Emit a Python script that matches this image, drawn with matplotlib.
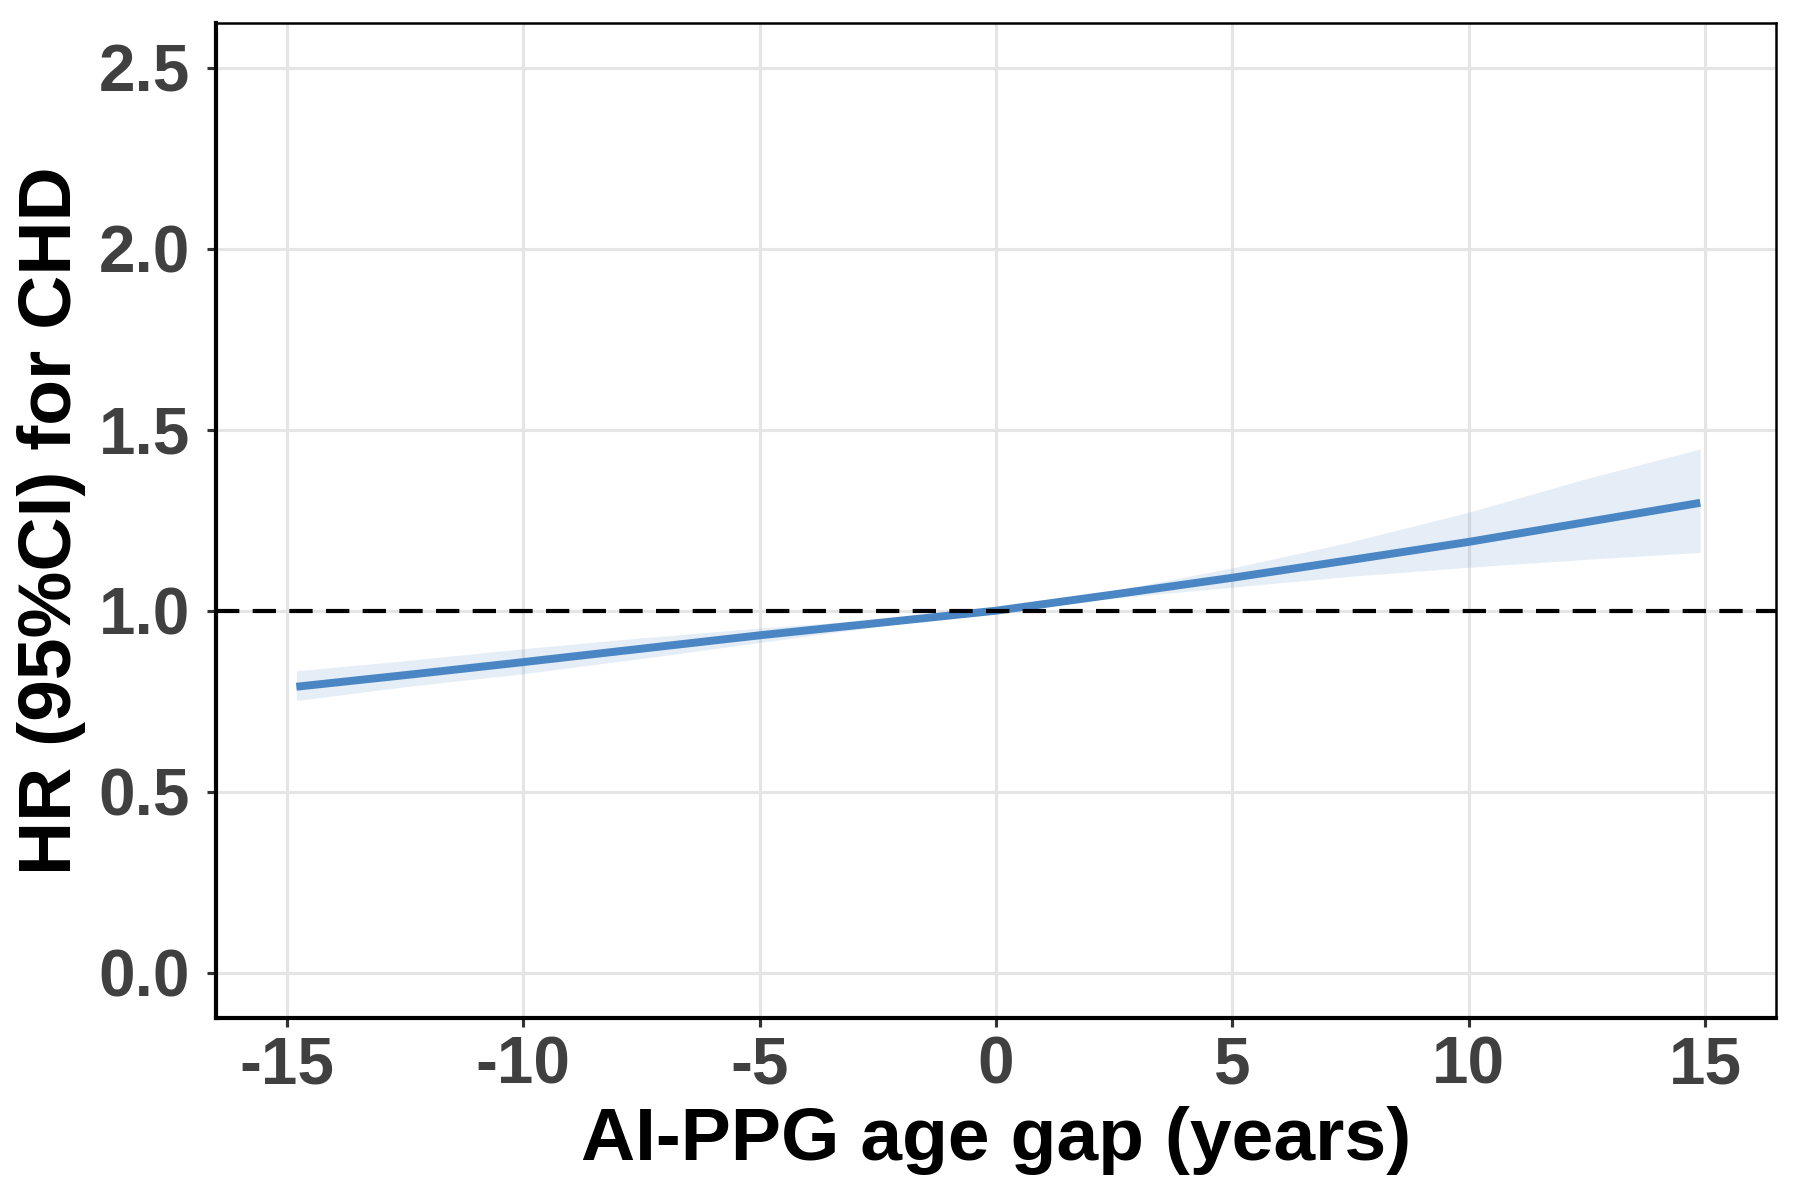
import matplotlib
matplotlib.use("Agg")
import matplotlib.pyplot as plt

plt.rcParams['font.family'] = ['Liberation Sans', 'DejaVu Sans']

# Data
age_gap = [-14.8, -12.5, -10, -7.5, -5, -2.5, 0, 2.5, 5, 7.5, 10, 12.5, 14.9]
hr      = [0.790, 0.822, 0.858, 0.895, 0.932, 0.966, 1.000, 1.045, 1.091, 1.140, 1.190, 1.245, 1.298]
hr_low  = [0.752, 0.790, 0.826, 0.868, 0.912, 0.956, 1.000, 1.035, 1.065, 1.095, 1.120, 1.142, 1.161]
hr_high = [0.834, 0.862, 0.895, 0.925, 0.952, 0.976, 1.000, 1.056, 1.118, 1.190, 1.272, 1.365, 1.447]

x_ticks = [-15, -10, -5, 0, 5, 10, 15]
y_ticks = [0.0, 0.5, 1.0, 1.5, 2.0, 2.5]
y_tick_labels = ["0.0", "0.5", "1.0", "1.5", "2.0", "2.5"]

line_color = "#4A86C4"

fig = plt.figure(figsize=(12, 8), dpi=150)
ax = fig.add_axes([0.12, 0.152, 0.8666, 0.829])

ax.grid(True, color="#E5E5E5", linewidth=1.5, zorder=0)
ax.set_axisbelow(True)

ax.fill_between(age_gap, hr_low, hr_high, color=line_color, alpha=0.14, linewidth=0, zorder=2)
ax.plot(age_gap, hr, color=line_color, linewidth=3.8, solid_capstyle='butt', zorder=3)
ax.axhline(1.0, color="black", linewidth=2.0, dashes=(5.6, 3.2), zorder=4)

ax.set_xlim(-16.5, 16.5)
ax.set_ylim(-0.124, 2.624)
ax.set_xticks(x_ticks)
ax.set_xticklabels([str(t) for t in x_ticks])
ax.set_yticks(y_ticks)
ax.set_yticklabels(y_tick_labels)

ax.tick_params(axis='both', which='major', length=4.5, width=1.5, color="#333333",
               labelsize=31.5, labelcolor="#404040")
ax.tick_params(axis='x', pad=4)
ax.tick_params(axis='y', pad=8)
for lab in ax.get_xticklabels() + ax.get_yticklabels():
    lab.set_fontweight('bold')

for side in ['top', 'right']:
    ax.spines[side].set_linewidth(1.2)
    ax.spines[side].set_color("black")
for side in ['left', 'bottom']:
    ax.spines[side].set_linewidth(2.0)
    ax.spines[side].set_color("black")

ax.set_xlabel("AI-PPG age gap (years)", fontsize=36, fontweight='bold', labelpad=4)
ax.set_ylabel("HR (95%CI) for CHD", fontsize=36, fontweight='bold', labelpad=6)

fig.savefig("out.png", dpi=150, facecolor="white")
